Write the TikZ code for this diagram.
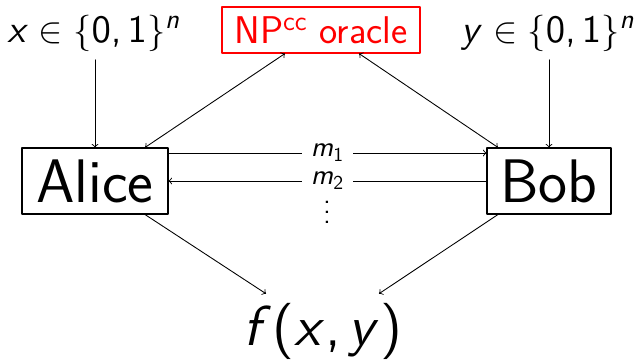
\documentclass[tikz,border=0pt]{standalone}
\usepackage{amsmath}
\renewcommand{\familydefault}{\sfdefault}
\usetikzlibrary{calc}

% sans serif math, as on a slide (scalable to any size)
\DeclareFontFamily{OT1}{slidess}{}
\DeclareFontShape{OT1}{slidess}{m}{n}{<->cmss10}{}
\DeclareFontShape{OT1}{slidess}{m}{sl}{<->cmssi10}{}
\DeclareSymbolFont{sfitalic}{OT1}{slidess}{m}{sl}
\DeclareSymbolFont{sfupright}{OT1}{slidess}{m}{n}
\DeclareMathSymbol{f}{\mathalpha}{sfitalic}{`f}
\DeclareMathSymbol{m}{\mathalpha}{sfitalic}{`m}
\DeclareMathSymbol{n}{\mathalpha}{sfitalic}{`n}
\DeclareMathSymbol{x}{\mathalpha}{sfitalic}{`x}
\DeclareMathSymbol{y}{\mathalpha}{sfitalic}{`y}
\DeclareMathSymbol{0}{\mathalpha}{sfupright}{`0}
\DeclareMathSymbol{1}{\mathalpha}{sfupright}{`1}
\DeclareMathSymbol{2}{\mathalpha}{sfupright}{`2}
\DeclareMathSymbol{,}{\mathpunct}{sfupright}{`,}
\DeclareMathSymbol{(}{\mathopen}{sfupright}{`(}
\DeclareMathSymbol{)}{\mathclose}{sfupright}{`)}
\newcommand{\tallvdots}{\vbox{\baselineskip5.7pt\lineskiplimit0pt\hbox{.}\hbox{.}\hbox{.}}}

\begin{document}
\begin{tikzpicture}[
  x=0.02cm,y=-0.02cm,
  line cap=round,line join=round
]
  \tikzset{
    party/.style={draw,line width=0.6pt,inner sep=0pt,minimum height=1.32cm,font=\fontsize{35}{40}\selectfont},
    input/.style={anchor=base,inner sep=4.7pt,font=\fontsize{22}{26}\selectfont},
    oraclebox/.style={draw=red,text=red,line width=0.6pt,minimum width=3.96cm,minimum height=0.92cm,inner sep=0pt,font=\fontsize{22}{26}\selectfont},
    output/.style={anchor=base,inner sep=5pt,font=\fontsize{32}{37}\selectfont},
    msg/.style={fill=white,inner sep=5pt,font=\fontsize{16}{19}\selectfont},
    link/.style={line width=0.5pt,->},
    query/.style={line width=0.5pt,<->}
  }
  \useasboundingbox (0,0) rectangle (639,359);

  % Parties and the oracle
  \node[party,minimum width=2.92cm] (alice) at (95,181) {Alice};
  \node[party,minimum width=2.48cm] (bob) at (549,181) {Bob};
  \node[oraclebox] (oracle) at (321,30) {NP\textsuperscript{cc} oracle};

  % Inputs and output
  \node[input] (xin) at (94,42) {$x\in\{0,1\}^n$};
  \node[input] (yin) at (548,42) {$y\in\{0,1\}^n$};
  \node[output] (fxy) at (323,345) {$f(x,y)$};

  % Connections
  \draw[link] (alice.north |- xin.south) -- (alice.north);
  \draw[link] (bob.north |- yin.south) -- (bob.north);
  \draw[query] ($(alice.north)+(50,0)$) -- ($(oracle.south)+(-36,0)$);
  \draw[query] ($(bob.north)+(-51,0)$) -- ($(oracle.south)+(38,0)$);

  % Messages
  \draw[link] ($(alice.east)+(0,-28)$) -- node[msg] {$m_1$} ($(bob.west)+(0,-28)$);
  \draw[link] (bob.west) -- node[msg,inner ysep=1pt] (mtwo) {$m_2$} (alice.east);
  \node[msg,fill=none,inner sep=0pt] (more) at (327,212) {\tallvdots};

  \draw[link] ($(alice.south)+(50,0)$) -- ($(fxy.north)+(-57,0)$);
  \draw[link] ($(bob.south)+(-51,0)$) -- ($(fxy.north)+(56,0)$);
\end{tikzpicture}
\end{document}
